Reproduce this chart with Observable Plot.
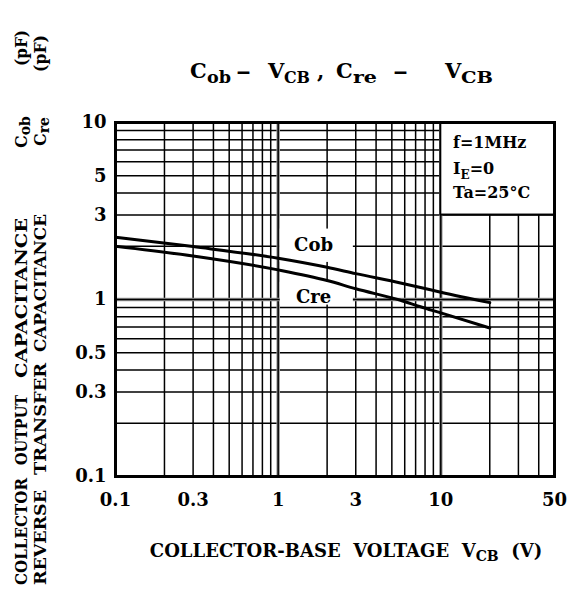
<!DOCTYPE html>
<html><head><meta charset="utf-8">
<script src="https://cdn.jsdelivr.net/npm/d3@7"></script>
<script src="https://cdn.jsdelivr.net/npm/@observablehq/plot@0.6"></script>
<style>body{margin:0;background:#fff} svg{display:block}</style>
</head><body><div id="chart"></div>
<script>
// ---- data ----
const voltage = [0.1, 0.3, 1, 2, 3, 5.65, 7.5, 10, 20];
const cob = [2.25, 1.99, 1.71, 1.52, 1.40, 1.24, 1.17, 1.10, 0.96];
const cre = [2.0, 1.76, 1.47, 1.28, 1.15, 0.99, 0.91, 0.84, 0.69];
const xTicks = [0.1, 0.3, 1, 3, 10, 50];
const yTicks = [0.1, 0.3, 0.5, 1, 3, 5, 10];
const xMinorGrid = [0.2,0.3,0.4,0.5,0.6,0.7,0.8,0.9,2,3,4,5,6,7,8,9,20,30,40];
const xMajorGrid = [1, 10];
const yMinorGrid = [0.2,0.3,0.4,0.5,0.6,0.7,0.8,0.9,2,3,4,5,6,7,8,9];
const yMajorGrid = [1];
const curveNames = ["Cob", "Cre"];
const curveLabelX = [1.65, 1.65];
const curveLabelY = [2.02, 1.03];
const conditions = [[["f=1MHz"]], [["I"],["E",1],["=0"]], [["Ta=25°C"]]];

const cobData = voltage.map((v, i) => ({v, c: cob[i]}));
const creData = voltage.map((v, i) => ({v, c: cre[i]}));
const labelData = curveNames.map((n, i) => ({n, x: curveLabelX[i], y: curveLabelY[i]}));

const FONT = "DejaVu Serif";

const plot = Plot.plot({
  width: 568, height: 590,
  marginLeft: 115, marginRight: 14, marginTop: 122, marginBottom: 114,
  style: {fontFamily: FONT, fontWeight: "bold", fontSize: "18px", background: "white", color: "black"},
  x: {type: "log", domain: [0.1, 50], axis: null},
  y: {type: "log", domain: [0.1, 10], ticks: yTicks, tickFormat: d => String(d), tickSize: 0, tickPadding: 9, label: null},
  marks: [
    Plot.ruleX(xMinorGrid, {stroke: "black", strokeWidth: 1.5}),
    Plot.ruleY(yMinorGrid, {stroke: "black", strokeWidth: 1.5}),
    Plot.ruleX(xMajorGrid, {stroke: "#9a9a9a", strokeWidth: 3.5}),
    Plot.ruleX(xMajorGrid, {stroke: "black", strokeWidth: 1.5}),
    Plot.ruleY(yMajorGrid, {stroke: "#9a9a9a", strokeWidth: 3.5}),
    Plot.ruleY(yMajorGrid, {stroke: "black", strokeWidth: 1.5}),
    Plot.rect([{x1: 1.03, x2: 2.9, y1: 1.62, y2: 2.5}, {x1: 1.03, x2: 2.9, y1: 0.93, y2: 1.25}],
      {x1: "x1", x2: "x2", y1: "y1", y2: "y2", fill: "white"}),
    Plot.rect([{x1: 10, x2: 50, y1: 3, y2: 10}], {x1: "x1", x2: "x2", y1: "y1", y2: "y2", fill: "white", stroke: "black", strokeWidth: 2}),
    Plot.line(cobData, {x: "v", y: "c", stroke: "black", strokeWidth: 3, curve: "monotone-x"}),
    Plot.line(creData, {x: "v", y: "c", stroke: "black", strokeWidth: 3, curve: "monotone-x"}),
    Plot.text(labelData, {x: "x", y: "y", text: "n", fontSize: 18, fontWeight: "bold", fill: "black"}),
    Plot.text(xTicks, {x: d => d, frameAnchor: "bottom", dy: 29, text: d => String(d), fontSize: 18, fontWeight: "bold", fill: "black"}),
    Plot.frame({stroke: "black", strokeWidth: 3})
  ]
});
document.getElementById("chart").appendChild(plot);

// ---- rich text (subscripts) ----
const svg = d3.select(plot);
function rich(parts, {x, y, size, subSize, shift, anchor = "start", rotate = 0, length = null}) {
  const t = svg.append("text")
    .attr("transform", `translate(${x},${y}) rotate(${rotate})`)
    .attr("text-anchor", anchor)
    .attr("font-family", FONT).attr("font-weight", "bold")
    .attr("font-size", size).attr("fill", "black")
    .style("white-space", "pre");
  if (length) t.attr("textLength", length).attr("lengthAdjust", "spacingAndGlyphs");
  let cur = 0;
  parts.forEach(([s, sub]) => {
    const target = sub ? shift : 0;
    const ts = t.append("tspan").text(s).attr("font-size", sub ? subSize : size);
    if (target !== cur) ts.attr("dy", target - cur);
    cur = target;
  });
  return t;
}

// title pieces placed along the baseline: [text, subscript?, start x, length]
const titlePieces = [["C",0,190,null],["ob",1,207,24],["–",0,236,15],["V",0,268,null],["CB",1,284,26],[",",0,317,null],
  ["C",0,336,null],["re",1,353,24],["–",0,393,15],["V",0,445,null],["CB",1,461,32]];
titlePieces.forEach(([s, sub, xx, L]) => rich([[s]], {x: xx, y: sub ? 83 : 78, size: sub ? 16 : 21, length: L}));

// x label
rich([["COLLECTOR-BASE  VOLTAGE  V"],["CB",1],["  (V)"]],
  {x: 346, y: 557, size: 18, subSize: 14, shift: 4, anchor: "middle"});

// y labels (rotated); [parts, start(bottom), length]
const yl1 = [[[["COLLECTOR"]], 585, 107], [[["OUTPUT"]], 465, 70], [[["CAPACITANCE"]], 378, 160], [[["C"],["ob",1]], 148, null], [[["(pF)"]], 66, 36]];
const yl2 = [[[["REVERSE"]], 585, 95], [[["TRANSFER"]], 475, 112], [[["CAPACITANCE"]], 352, 138], [[["C"],["re",1]], 146, null], [[["(pF)"]], 72, 37]];
yl1.forEach(([p, yy, L]) => rich(p, {x: 27, y: yy, size: 16, subSize: 14, shift: 3, rotate: -90, length: L}));
yl2.forEach(([p, yy, L]) => rich(p, {x: 46, y: yy, size: 16, subSize: 14, shift: 3, rotate: -90, length: L}));

// conditions box text
conditions.forEach((p, i) => rich(p, {x: 453, y: [148, 174, 198][i], size: 16, subSize: 12, shift: 5}));
</script>
</body></html>
